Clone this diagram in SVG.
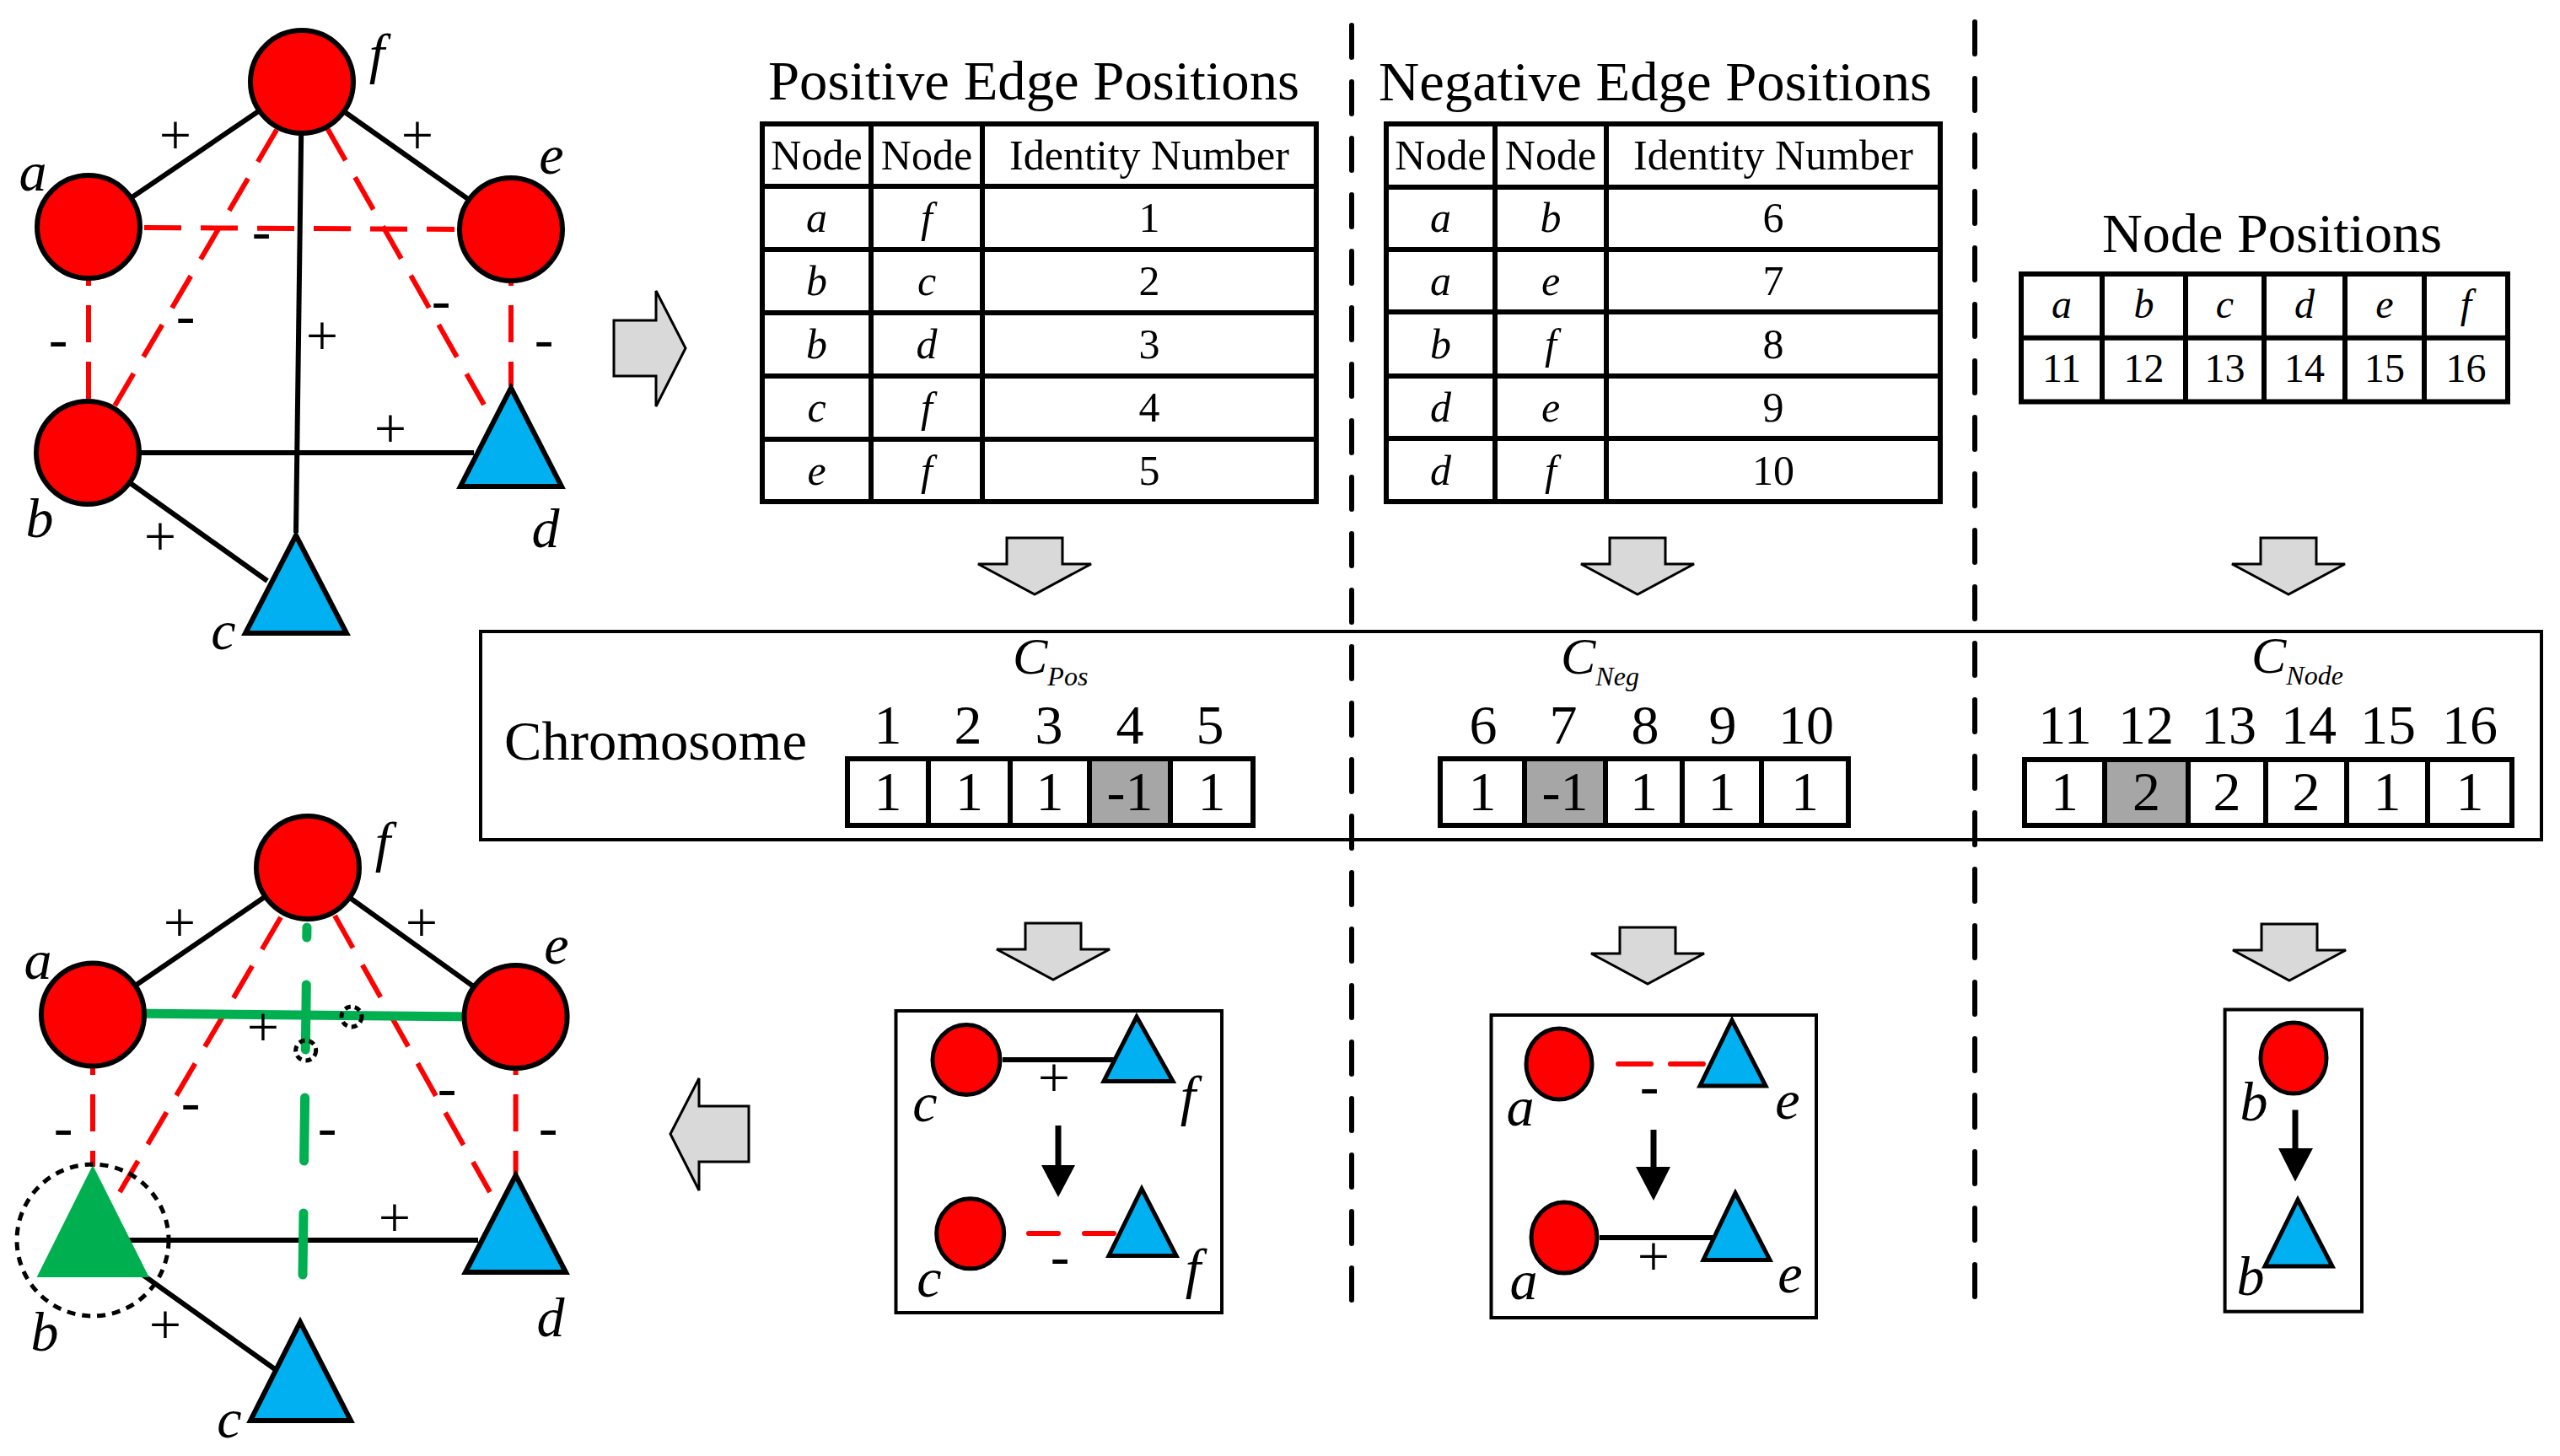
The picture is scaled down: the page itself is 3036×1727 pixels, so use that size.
<svg xmlns="http://www.w3.org/2000/svg" width="3036" height="1727" viewBox="0 0 3036 1727">
<defs>
<style>
.t{font-family:"Liberation Serif","Times New Roman",serif;fill:#000}
.it{font-style:italic}
.lbl{font-family:"Liberation Serif","Times New Roman",serif;font-size:66px;font-style:italic;text-anchor:middle}
.sg{font-family:"Liberation Serif","Times New Roman",serif;font-size:68px;text-anchor:middle}
.ttl{font-family:"Liberation Serif","Times New Roman",serif;font-size:66px}
.hd{font-family:"Liberation Serif","Times New Roman",serif;font-size:50px;text-anchor:middle}
.np{font-family:"Liberation Serif","Times New Roman",serif;font-size:48px;text-anchor:middle}
.ch{font-family:"Liberation Serif","Times New Roman",serif;font-size:66px;text-anchor:middle}
.cir{fill:#ff0000;stroke:#000;stroke-width:6}
.cir2{fill:#ff0000;stroke:#000;stroke-width:5}
.tri{fill:#00b0f0;stroke:#000;stroke-width:6;stroke-linejoin:miter}
.tri2{fill:#00b0f0;stroke:#000;stroke-width:5;stroke-linejoin:miter}
.pos{stroke:#000;stroke-width:6;fill:none}
.neg{stroke:#ff0000;stroke-width:6;stroke-dasharray:44 23;fill:none}
.neg2{stroke:#ff0000;stroke-width:6;stroke-dasharray:35 31;stroke-linecap:round;fill:none}
.grn{stroke:#00b050;stroke-width:11;fill:none;stroke-linecap:round}
.sep{stroke:#000;stroke-width:6;stroke-dasharray:38 29;stroke-linecap:round;fill:none}
.grid{fill:none;stroke:#000;stroke-width:6}
.garrow{fill:#d9d9d9;stroke:#000;stroke-width:3;stroke-linejoin:miter}
.box{fill:none;stroke:#000;stroke-width:4}
.dot{fill:none;stroke:#000;stroke-width:5;stroke-dasharray:7 5}
.shade{fill:#a6a6a6}
</style>
<path id="darrow" d="M-33,0H33V31H67L0,67L-67,31H-33Z"/>
</defs>
<rect width="3036" height="1727" fill="#fff"/>

<!-- section separators -->
<g id="separators">
<line class="sep" x1="1603" y1="30" x2="1603" y2="1550"/>
<line class="sep" x1="2342" y1="26" x2="2342" y2="1552"/>
</g>

<!-- flow arrows -->
<g id="flow-arrows">
<path class="garrow" d="M728,380H778V345L813,413L778,482V446H728Z"/>
<path class="garrow" d="M888,1312H829V1279L795,1345L829,1412V1378H888Z"/>
<use href="#darrow" class="garrow" x="1227" y="638"/>
<use href="#darrow" class="garrow" x="1942" y="638"/>
<use href="#darrow" class="garrow" x="2714" y="638"/>
<use href="#darrow" class="garrow" x="1249" y="1095"/>
<use href="#darrow" class="garrow" x="1954" y="1100"/>
<use href="#darrow" class="garrow" x="2715" y="1096"/>
</g>

<!-- connectors -->
<g id="connectors">
<!-- top graph -->
<path class="neg" d="M171,270L539,272"/>
<path class="neg" d="M105,295L105,474"/>
<path class="neg" d="M606,295L606,458"/>
<path class="neg" d="M328,154L135,483"/>
<path class="neg" d="M388,152L574,480"/>
<path class="pos" d="M105,269L358,97"/>
<path class="pos" d="M358,97L606,272"/>
<path class="pos" d="M358,97L351,632"/>
<path class="pos" d="M104,537L562,537"/>
<path class="pos" d="M104,537L317,689"/>
<!-- bottom graph -->
<path class="neg" d="M110,1231L110,1384"/>
<path class="neg" d="M611.6,1231L611.6,1392"/>
<path class="neg" d="M333,1088L142,1414"/>
<path class="neg" d="M397,1086L581,1414"/>
<path class="pos" d="M110,1203.5L365,1029"/>
<path class="pos" d="M365,1029L611.6,1206"/>
<path class="pos" d="M150,1471L567,1471"/>
<path class="pos" d="M165,1509L326,1624"/>
<path class="grn" d="M150,1202L570,1206"/>
<path class="grn" d="M364,1100L363.8,1112"/>
<path class="grn" d="M363.3,1168L362.3,1245"/>
<path class="grn" d="M361.6,1302L360.6,1377"/>
<path class="grn" d="M360,1439L359,1512"/>
<!-- mutation boxes -->
<path class="pos" stroke-width="4" d="M1189,1257L1330,1257"/>
<path class="neg2" d="M1220,1463L1321,1463"/>
<path class="neg2" d="M1919,1262L2021,1262" style="stroke-dasharray:39 23"/>
<path class="pos" d="M1897,1468L2040,1468"/>
</g>

<!-- edge signs -->
<g id="edge-signs">
<text class="sg" x="208" y="183">+</text>
<text class="sg" x="495" y="183">+</text>
<text class="sg" x="310" y="296">-</text>
<text class="sg" x="69" y="424">-</text>
<text class="sg" x="220" y="396">-</text>
<text class="sg" x="382" y="421">+</text>
<text class="sg" x="523" y="378">-</text>
<text class="sg" x="645" y="424">-</text>
<text class="sg" x="463" y="531">+</text>
<text class="sg" x="190" y="659">+</text>

<text class="sg" x="213" y="1117">+</text>
<text class="sg" x="500" y="1117">+</text>
<text class="sg" x="312" y="1241">+</text>
<text class="sg" x="75" y="1359">-</text>
<text class="sg" x="226" y="1329">-</text>
<text class="sg" x="388" y="1359">-</text>
<text class="sg" x="530" y="1312">-</text>
<text class="sg" x="650" y="1359">-</text>
<text class="sg" x="468" y="1467">+</text>
<text class="sg" x="196" y="1594">+</text>

<text class="sg" x="1250" y="1301">+</text>
<text class="sg" x="1257" y="1512">-</text>
<text class="sg" x="1956" y="1310">-</text>
<text class="sg" x="1961" y="1513">+</text>
</g>

<!-- top graph nodes -->
<g id="top-f"><circle class="cir" cx="358" cy="97" r="61"/><text class="lbl" x="447" y="86">f</text></g>
<g id="top-a"><circle class="cir" cx="105" cy="269" r="61"/><text class="lbl" x="39" y="226">a</text></g>
<g id="top-e"><circle class="cir" cx="606" cy="272" r="61"/><text class="lbl" x="654" y="206">e</text></g>
<g id="top-b"><circle class="cir" cx="104" cy="537" r="61"/><text class="lbl" x="47" y="637">b</text></g>
<g id="top-d"><polygon class="tri" points="606,460 546,577 666,577"/><text class="lbl" x="647" y="649">d</text></g>
<g id="top-c"><polygon class="tri" points="351,635 291,751 411,751"/><text class="lbl" x="265" y="770">c</text></g>

<!-- bottom graph nodes -->
<g id="bot-f"><circle class="cir" cx="365" cy="1029" r="61"/><text class="lbl" x="454" y="1021">f</text></g>
<g id="bot-a"><circle class="cir" cx="110" cy="1203.5" r="61"/><text class="lbl" x="45" y="1161">a</text></g>
<g id="bot-e"><circle class="cir" cx="611.6" cy="1206" r="61"/><text class="lbl" x="660" y="1143">e</text></g>
<g id="bot-b"><polygon fill="#00b050" points="110,1382 43.6,1515 176.8,1515"/><circle cx="110" cy="1471" r="90" fill="none" stroke="#000" stroke-width="5" stroke-dasharray="10 8"/><text class="lbl" x="53" y="1602">b</text></g>
<g id="bot-d"><polygon class="tri" points="611.6,1394 552,1509 671,1509"/><text class="lbl" x="653" y="1585">d</text></g>
<g id="bot-c"><polygon class="tri" points="356,1568 297,1685 416,1685"/><text class="lbl" x="272" y="1705">c</text></g>
<g id="changed-edge-marks">
<circle class="dot" cx="417" cy="1206" r="12"/>
<circle class="dot" cx="362.7" cy="1246" r="12"/>
</g>

<!-- Positive Edge Positions table -->
<g id="pos-table">
<text class="ttl" x="911" y="118" textLength="630" lengthAdjust="spacingAndGlyphs">Positive Edge Positions</text>
<rect class="grid" x="904" y="147" width="657" height="448"/>
<path class="grid" d="M904,221H1561M904,296H1561M904,371H1561M904,446H1561M904,521H1561M1033,147V595M1165,147V595"/>
<text class="hd" x="968.5" y="201">Node</text>
<text class="hd" x="1099" y="201">Node</text>
<text class="hd" x="1363" y="201">Identity Number</text>
<g class="hd it">
<text x="968.5" y="275">a</text><text x="1099" y="275">f</text>
<text x="968.5" y="350">b</text><text x="1099" y="350">c</text>
<text x="968.5" y="425">b</text><text x="1099" y="425">d</text>
<text x="968.5" y="500">c</text><text x="1099" y="500">f</text>
<text x="968.5" y="575">e</text><text x="1099" y="575">f</text>
</g>
<g class="hd">
<text x="1363" y="275">1</text><text x="1363" y="350">2</text><text x="1363" y="425">3</text><text x="1363" y="500">4</text><text x="1363" y="575">5</text>
</g>
</g>

<!-- Negative Edge Positions table -->
<g id="neg-table">
<text class="ttl" x="1635" y="119" textLength="656" lengthAdjust="spacingAndGlyphs">Negative Edge Positions</text>
<rect class="grid" x="1644" y="147" width="657" height="448"/>
<path class="grid" d="M1644,222H2301M1644,296H2301M1644,370H2301M1644,446H2301M1644,520H2301M1773,147V595M1905,147V595"/>
<text class="hd" x="1708.5" y="201">Node</text>
<text class="hd" x="1839" y="201">Node</text>
<text class="hd" x="2103" y="201">Identity Number</text>
<g class="hd it">
<text x="1708.5" y="275">a</text><text x="1839" y="275">b</text>
<text x="1708.5" y="350">a</text><text x="1839" y="350">e</text>
<text x="1708.5" y="425">b</text><text x="1839" y="425">f</text>
<text x="1708.5" y="500">d</text><text x="1839" y="500">e</text>
<text x="1708.5" y="575">d</text><text x="1839" y="575">f</text>
</g>
<g class="hd">
<text x="2103" y="275">6</text><text x="2103" y="350">7</text><text x="2103" y="425">8</text><text x="2103" y="500">9</text><text x="2103" y="575">10</text>
</g>
</g>

<!-- Node Positions table -->
<g id="node-table">
<text class="ttl" x="2493" y="299" textLength="403" lengthAdjust="spacingAndGlyphs">Node Positions</text>
<rect class="grid" x="2397" y="325" width="577" height="151.5"/>
<path class="grid" d="M2397,400.7H2974M2493,325V476.5M2592,325V476.5M2685,325V476.5M2781,325V476.5M2875,325V476.5"/>
<g class="np it">
<text x="2445" y="377">a</text><text x="2542.5" y="377">b</text><text x="2638.5" y="377">c</text><text x="2733" y="377">d</text><text x="2828" y="377">e</text><text x="2924.5" y="377">f</text>
</g>
<g class="np">
<text x="2445" y="453">11</text><text x="2542.5" y="453">12</text><text x="2638.5" y="453">13</text><text x="2733" y="453">14</text><text x="2828" y="453">15</text><text x="2924.5" y="453">16</text>
</g>
</g>

<!-- Chromosome -->
<g id="chromosome">
<rect class="box" x="570" y="749" width="2444" height="247"/>
<text class="ttl" x="598" y="901" textLength="359" lengthAdjust="spacingAndGlyphs">Chromosome</text>
<text class="t it" x="1201" y="799" font-size="62">C<tspan font-size="32" dy="14">Pos</tspan></text>
<text class="t it" x="1851" y="799" font-size="62">C<tspan font-size="32" dy="14">Neg</tspan></text>
<text class="t it" x="2670" y="798" font-size="62">C<tspan font-size="32" dy="14">Node</tspan></text>
<g class="ch">
<text x="1053" y="882">1</text><text x="1148" y="882">2</text><text x="1244" y="882">3</text><text x="1340" y="882">4</text><text x="1435" y="882">5</text>
<text x="1759" y="882">6</text><text x="1854" y="882">7</text><text x="1951" y="882">8</text><text x="2043" y="882">9</text><text x="2142" y="882">10</text>
<text x="2449" y="882">11</text><text x="2545" y="882">12</text><text x="2643" y="882">13</text><text x="2738" y="882">14</text><text x="2832" y="882">15</text><text x="2929" y="882">16</text>
</g>
<rect class="shade" x="1292" y="900" width="96" height="79"/>
<rect class="shade" x="1808" y="900" width="96" height="79"/>
<rect class="shade" x="2496" y="901" width="99" height="78"/>
<path class="grid" d="M1005,900H1486V979H1005ZM1101,900V979M1198,900V979M1292,900V979M1388,900V979"/>
<path class="grid" d="M1708,900H2192V979H1708ZM1808,900V979M1904,900V979M1995,900V979M2089,900V979"/>
<path class="grid" d="M2401,901H2979V979H2401ZM2496,901V979M2595,901V979M2687,901V979M2783,901V979M2879,901V979"/>
<g class="ch">
<text x="1053" y="961">1</text><text x="1149.5" y="961">1</text><text x="1245" y="961">1</text><text x="1340" y="961">-1</text><text x="1437" y="961">1</text>
<text x="1758" y="961">1</text><text x="1856" y="961">-1</text><text x="1949.5" y="961">1</text><text x="2042" y="961">1</text><text x="2140.5" y="961">1</text>
<text x="2448.5" y="961">1</text><text x="2545.5" y="961">2</text><text x="2641" y="961">2</text><text x="2735" y="961">2</text><text x="2831" y="961">1</text><text x="2929" y="961">1</text>
</g>
</g>

<!-- mutation box 1: positive edge c-f flips -->
<g id="mut-pos">
<rect class="box" x="1062.5" y="1199" width="386.5" height="358"/>
<g id="mp-c1"><ellipse class="cir2" cx="1146" cy="1257" rx="40" ry="41.5"/><text class="lbl" x="1097" y="1330">c</text></g>
<g id="mp-f1"><polygon class="tri2" points="1348,1206 1309,1282.5 1391,1282.5"/><text class="lbl" x="1409" y="1322">f</text></g>
<path d="M1255,1335V1384" stroke="#000" stroke-width="7"/>
<polygon points="1235,1382 1275,1382 1255,1420" fill="#000"/>
<g id="mp-c2"><ellipse class="cir2" cx="1150.7" cy="1463.3" rx="40" ry="41.5"/><text class="lbl" x="1102" y="1538">c</text></g>
<g id="mp-f2"><polygon class="tri2" points="1354,1410 1315,1489.5 1395,1489.5"/><text class="lbl" x="1415" y="1527">f</text></g>
</g>

<!-- mutation box 2: negative edge a-e flips -->
<g id="mut-neg">
<rect class="box" x="1768.5" y="1204" width="385.5" height="359"/>
<g id="mn-a1"><ellipse class="cir2" cx="1849" cy="1262" rx="39" ry="42"/><text class="lbl" x="1803" y="1335">a</text></g>
<g id="mn-e1"><polygon class="tri2" points="2054,1210 2016,1288 2094,1288"/><text class="lbl" x="2120" y="1327">e</text></g>
<path d="M1961,1340V1386" stroke="#000" stroke-width="7"/>
<polygon points="1940,1384 1981,1384 1961,1424" fill="#000"/>
<g id="mn-a2"><ellipse class="cir2" cx="1855" cy="1468" rx="39" ry="42"/><text class="lbl" x="1807" y="1541">a</text></g>
<g id="mn-e2"><polygon class="tri2" points="2058,1415 2020,1494.5 2099,1494.5"/><text class="lbl" x="2123" y="1533">e</text></g>
</g>

<!-- mutation box 3: node b changes group -->
<g id="mut-node">
<rect class="box" x="2638.6" y="1197.5" width="162.4" height="358.2"/>
<g id="mb-b1"><ellipse class="cir2" cx="2720" cy="1255" rx="39" ry="42"/><text class="lbl" x="2673" y="1329">b</text></g>
<path d="M2722,1316.5V1364" stroke="#000" stroke-width="7"/>
<polygon points="2702,1362 2743,1362 2722,1401.5" fill="#000"/>
<g id="mb-b2"><polygon class="tri2" points="2725,1423 2686,1502 2766,1502"/><text class="lbl" x="2669" y="1536">b</text></g>
</g>
</svg>
